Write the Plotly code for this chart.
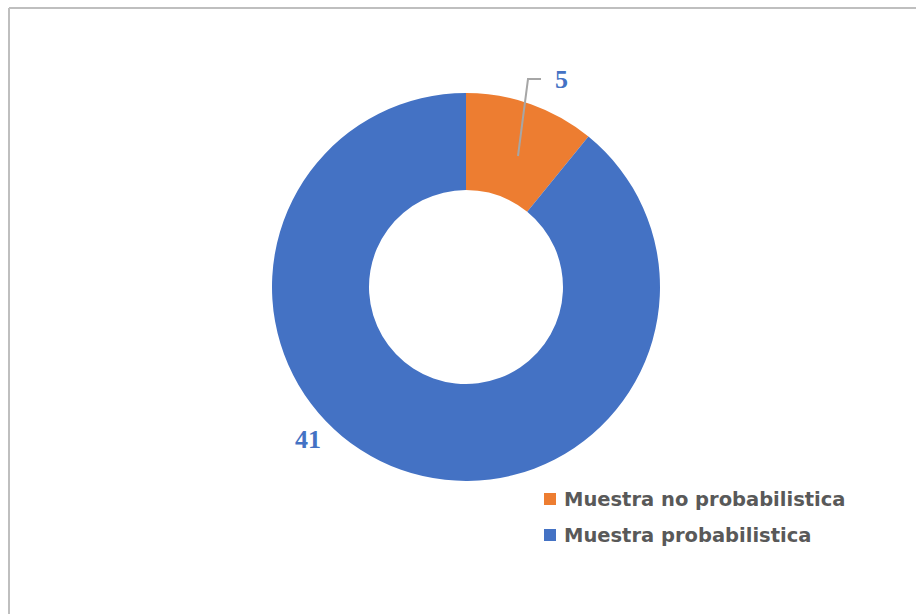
import plotly.graph_objects as go

# Sample type counts
categories = ["Muestra no probabilistica", "Muestra probabilistica"]
counts = [5, 41]
colors = ["#ED7D31", "#4472C4"]

W, H = 916, 614


def px(x):
    return x / W


def py(y):
    return 1 - y / H


cx, cy, r = 466, 287, 194

fig = go.Figure(
    go.Pie(
        labels=categories,
        values=counts,
        hole=0.5,
        sort=False,
        direction="clockwise",
        rotation=0,
        marker=dict(colors=colors, line=dict(color="white", width=0)),
        textinfo="none",
        hoverinfo="label+value",
        showlegend=False,
        domain=dict(x=[px(cx - r), px(cx + r)], y=[py(cy + r), py(cy - r)]),
    )
)

label_font = dict(family="Liberation Serif", size=26, color="#4472C4")

annotations = [
    dict(x=px(561), y=py(79), text=f"<b>{counts[0]}</b>"),
    dict(x=px(308), y=py(439), text=f"<b>{counts[1]}</b>"),
]
annotations = [
    dict(a, xref="paper", yref="paper", showarrow=False, font=label_font,
         xanchor="center", yanchor="middle")
    for a in annotations
]

# Legend entries
legend_rows = [499, 535]
for name, color, yrow in zip(categories, colors, legend_rows):
    annotations.append(
        dict(x=px(562), y=py(yrow), xref="paper", yref="paper", showarrow=False,
             text=f"<b>{name}</b>", xanchor="left", yanchor="middle",
             font=dict(family="DejaVu Sans", size=19.5, color="#595959"))
    )

shapes = []
for color, yrow in zip(colors, legend_rows):
    shapes.append(dict(type="rect", xref="paper", yref="paper",
                       x0=px(544), x1=px(556), y0=py(yrow + 6), y1=py(yrow - 6),
                       fillcolor=color, line=dict(width=0)))

# Leader line for the small slice label
shapes.append(dict(type="path", xref="paper", yref="paper",
                   path=f"M {px(518)},{py(156)} L {px(528)},{py(79)} L {px(541)},{py(79)}",
                   line=dict(color="#A6A6A6", width=2)))

# Chart frame (top and left edges)
shapes.append(dict(type="line", xref="paper", yref="paper",
                   x0=px(9), x1=1, y0=py(8), y1=py(8),
                   line=dict(color="#BFBFBF", width=2)))
shapes.append(dict(type="line", xref="paper", yref="paper",
                   x0=px(9), x1=px(9), y0=py(8), y1=0,
                   line=dict(color="#BFBFBF", width=2)))

fig.update_layout(
    width=W,
    height=H,
    margin=dict(l=0, r=0, t=0, b=0),
    paper_bgcolor="white",
    plot_bgcolor="white",
    annotations=annotations,
    shapes=shapes,
)

fig.write_html("out.html")
